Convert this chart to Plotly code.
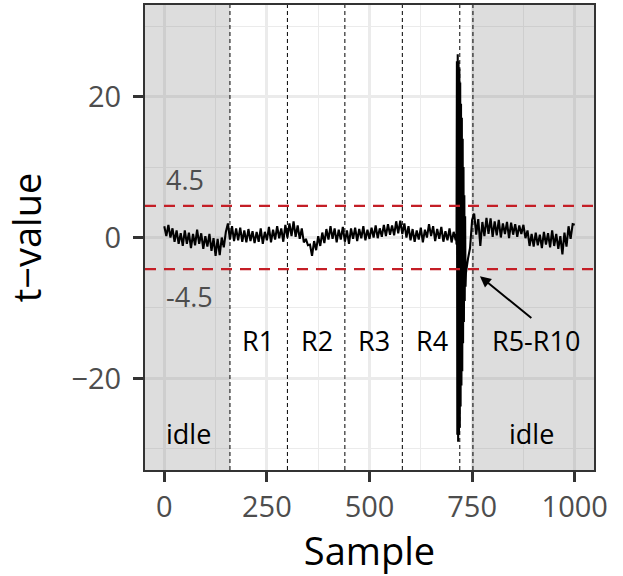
import plotly.graph_objects as go

# ---------------- data ----------------
# segment before the burst (samples 0..710, every 5th sample)
pre_samples = list(range(0, 711, 5))
pre_values = [
    1.6, 0.2, 1.8, 0.0, 1.3, -0.6, 1.0, -0.9, 0.6, -1.2,
    1.0, -0.9, 0.7, -1.5, 0.5, -1.1, 1.1, -0.9, 0.6, -1.6,
    0.2, -1.3, 0.5, -1.9, -0.1, -2.6, -0.2, -2.5, 0.0, -1.4,
    0.8, 2.0, -0.3, 1.6, -0.5, 1.3, -0.4, 1.4, -0.6, 1.0,
    -0.7, 1.2, -0.5, 0.9, -0.8, 0.8, -0.6, 1.3, -0.9, 0.8,
    -0.4, 1.5, -0.7, 1.1, -0.3, 1.6, -0.1, 1.3, -0.6, 1.8,
    0.0, 2.0, 0.2, 2.3, 0.1, 1.7, -0.2, 1.3, -0.7, -0.2,
    -1.1, -1.0, -2.6, -0.5, -1.8, 0.2, -1.2, 0.7, -0.8, 1.2,
    -0.3, 1.6, -0.2, 1.3, -0.7, 1.1, -0.3, 1.5, -0.6, 1.0,
    -0.9, 1.3, -0.2, 1.4, -0.5, 1.2, -0.1, 1.6, -0.4, 1.1,
    -0.2, 1.4, 0.0, 1.7, -0.1, 1.3, 0.1, 1.8, 0.2, 1.9,
    0.4, 1.7, 0.3, 2.3, 0.6, 2.4, 0.5, 2.0, 0.0, 1.6,
    -0.4, 1.2, -0.6, 1.0, -0.3, 1.4, -0.7, 1.1, 0.0, 1.9,
    0.2, 1.6, -0.5, 1.2, -0.2, 1.5, -0.6, 0.9, -0.4, 1.3,
    -0.7, 0.8, -0.4,
]
# burst (samples 711..735, every sample)
burst_samples = list(range(711, 736))
burst_values = [
    0.5, -1.0, 25, -28, 26, -29, 25, -28, 24, -27,
    22, -24, 19, -21, 17, -19, 14, -15, 10, -12,
    6, -9, 3, -7, -5,
]
# after the burst (samples 740..1000, every 5th sample)
post_samples = list(range(740, 1001, 5))
post_values = [
    -3.0, -1.5, 2.5, 3.4, 0.4, 2.6, -1.2, 2.2, 0.2, 2.8,
    0.5, 2.7, 0.1, 2.3, 0.3, 2.5, 0.0, 2.0, 0.5, 2.2,
    -0.1, 2.1, 0.4, 1.9, 0.1, 1.7, 0.5, 1.8, -0.1, 1.0,
    -1.2, 0.5, -1.3, 0.7, -1.1, 0.4, -1.5, 0.8, -1.0, 0.6,
    -1.4, 1.0, -1.2, 0.5, -1.6, 0.2, -2.4, 0.7, -1.3, 1.6,
    -0.2, 1.9, 1.8,
]

samples = pre_samples + burst_samples + post_samples
t_values = pre_values + burst_values + post_values

threshold = 4.5
boundaries = [160, 300, 440, 580, 720, 752]
idle_spans = [(-60, 160), (750, 1060)]
region_labels = ["R1", "R2", "R3", "R4", "R5-R10"]
region_label_x = [229, 372, 512, 652, 905]
region_label_y = -14.6
idle_label_x = [58, 895]
idle_label_y = -27.8
x_ticks = [0, 250, 500, 750, 1000]
y_ticks = [-20, 0, 20]
y_tick_text = ["\u221220", "0", "20"]
arrow_head = (769, -5.5)
arrow_tail = (898, -11.6)
y_range = [-33, 33]

FONT = "Open Sans"

fig = go.Figure()

# idle shading as filled traces (above grid, below data line)
for x0, x1 in idle_spans:
    fig.add_trace(go.Scatter(
        x=[x0, x1, x1, x0, x0], y=[y_range[0] - 5, y_range[0] - 5, y_range[1] + 5, y_range[1] + 5, y_range[0] - 5],
        mode="lines", fill="toself", fillcolor="rgba(128,128,128,0.27)",
        line=dict(width=0), hoverinfo="skip", showlegend=False,
    ))

fig.add_trace(go.Scatter(
    x=samples, y=t_values, mode="lines",
    line=dict(color="black", width=2.1),
    hoverinfo="skip", showlegend=False,
))

shapes = []
for b in boundaries:
    shapes.append(dict(type="line", xref="x", yref="paper", x0=b, x1=b, y0=0, y1=1,
                       line=dict(color="black", width=1, dash="4px,3px"), layer="above"))
for t in (threshold, -threshold):
    shapes.append(dict(type="line", xref="paper", yref="y", x0=0, x1=1, y0=t, y1=t,
                       line=dict(color="#c41e26", width=2.2, dash="11px,8px"), layer="above"))

annotations = []
annotations.append(dict(x=0, y=8.2, xref="x", yref="y", text="4.5", showarrow=False,
                        xanchor="left", font=dict(family=FONT, size=27, color="#4d4d4d")))
annotations.append(dict(x=0, y=-8.4, xref="x", yref="y", text="-4.5", showarrow=False,
                        xanchor="left", font=dict(family=FONT, size=27, color="#4d4d4d")))
for lab, lx in zip(region_labels, region_label_x):
    annotations.append(dict(x=lx, y=region_label_y, xref="x", yref="y", text=lab, showarrow=False,
                            font=dict(family=FONT, size=27, color="black")))
for lx in idle_label_x:
    annotations.append(dict(x=lx, y=idle_label_y, xref="x", yref="y", text="idle", showarrow=False,
                            font=dict(family=FONT, size=27, color="black")))
annotations.append(dict(x=arrow_head[0], y=arrow_head[1], ax=arrow_tail[0], ay=arrow_tail[1],
                        xref="x", yref="y", axref="x", ayref="y", text="", showarrow=True,
                        arrowhead=2, arrowsize=1.1, arrowwidth=2, arrowcolor="black"))

fig.update_layout(
    width=623, height=576,
    margin=dict(l=145, r=29, t=5, b=106, autoexpand=False),
    paper_bgcolor="white", plot_bgcolor="white",
    shapes=shapes, annotations=annotations,
    font=dict(family=FONT, color="#4d4d4d"),
    showlegend=False,
)

fig.update_xaxes(
    range=[-47, 1047], tickvals=x_ticks, ticktext=[str(v) for v in x_ticks],
    ticks="outside", ticklen=10, tickwidth=2.5, tickcolor="#333333",
    tickfont=dict(family=FONT, size=29, color="#4d4d4d"),
    showline=True, linecolor="#333333", linewidth=2, mirror=True,
    showgrid=True, gridcolor="#ebebeb", gridwidth=2.5,
    minor=dict(tickvals=[125, 375, 625, 875], showgrid=True, gridcolor="#ebebeb", gridwidth=1.3, ticks=""),
    zeroline=False, automargin=False,
    title=dict(text="Sample", font=dict(family=FONT, size=38, color="black"), standoff=6),
)
fig.update_yaxes(
    range=y_range, tickvals=y_ticks, ticktext=y_tick_text,
    ticks="outside", ticklen=10, tickwidth=2.5, tickcolor="#333333",
    tickfont=dict(family=FONT, size=29, color="#4d4d4d"),
    ticklabelstandoff=6,
    showline=True, linecolor="#333333", linewidth=2, mirror=True,
    showgrid=True, gridcolor="#ebebeb", gridwidth=2.5,
    minor=dict(tickvals=[-30, -10, 10, 30], showgrid=True, gridcolor="#ebebeb", gridwidth=1.3, ticks=""),
    zeroline=False, automargin=False,
    title=dict(text="t\u2212value", font=dict(family=FONT, size=38, color="black"), standoff=22),
)

fig.write_html("out.html", config={"displayModeBar": False},
               post_script="document.body.style.margin='0';document.body.style.padding='0';")
